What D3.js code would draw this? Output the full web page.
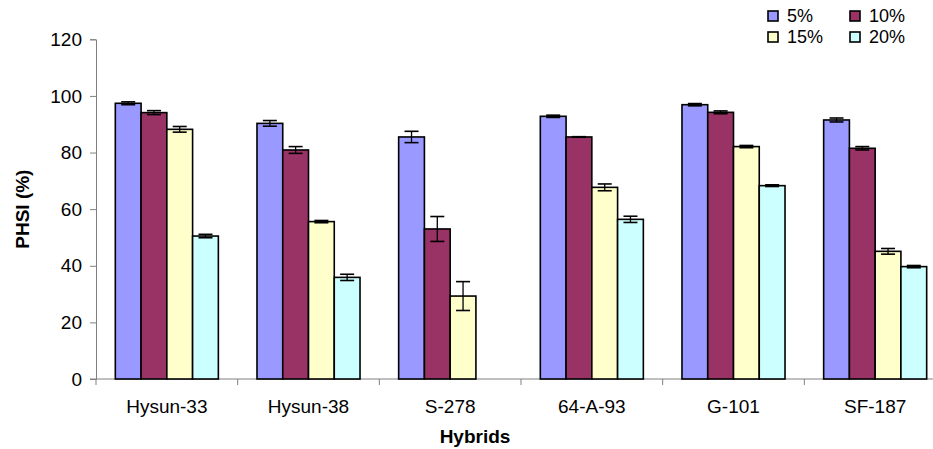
<!DOCTYPE html>
<html><head><meta charset="utf-8">
<script src="https://cdn.jsdelivr.net/npm/d3@7"></script>
<style>body{margin:0;background:#fff}svg{display:block}text{font-family:"Liberation Sans",Arial,sans-serif}</style>
</head><body><svg id="c" width="933" height="449"></svg>
<script>
const categories = ["Hysun-33","Hysun-38","S-278","64-A-93","G-101","SF-187"];
const seriesNames = ["5%","10%","15%","20%"];
const colors = ["#9999FF","#993366","#FFFFCC","#CCFFFF"];
const v5  = [97.4, 90.3, 85.5, 92.8, 96.9, 91.5];
const v10 = [94.1, 80.9, 53.0, 85.5, 94.2, 81.5];
const v15 = [88.2, 55.6, 29.3, 67.7, 82.1, 45.1];
const v20 = [50.5, 35.9, null, 56.4, 68.3, 39.7];
const e5  = [0.5, 1.0, 2.0, 0.4, 0.4, 0.7];
const e10 = [0.7, 1.2, 4.4, 0.1, 0.5, 0.6];
const e15 = [1.0, 0.4, 5.1, 1.2, 0.4, 1.0];
const e20 = [0.6, 1.1, null, 1.1, 0.3, 0.4];
const yTicks = [0,20,40,60,80,100,120];

const values = [v5,v10,v15,v20], errs = [e5,e10,e15,e20];
const svg = d3.select("#c");
const pL = 96, pR = 946, pT = 39.3, pB = 379;
const x = d3.scaleBand().domain(categories).range([pL,pR]).paddingInner(0.2727).paddingOuter(0.1364);
const xStep = d3.scaleBand().domain(categories).range([pL,pR]);
const y = d3.scaleLinear().domain([0,120]).range([pB,pT]);
const xs = d3.scaleBand().domain(seriesNames).range([0,x.bandwidth()]);

// axes
const yAxis = d3.axisLeft(y).tickValues(yTicks).tickSize(6).tickPadding(8);
const gy = svg.append("g").attr("transform",`translate(${pL},0)`).call(yAxis);
gy.select(".domain").attr("stroke","#808080");
gy.selectAll(".tick line").attr("stroke","#808080");
gy.selectAll("text").attr("font-size",19).attr("fill","#000").attr("font-family","Liberation Sans, Arial, sans-serif");

// x axis line and ticks between categories
svg.append("line").attr("x1",pL-6).attr("x2",pR).attr("y1",pB).attr("y2",pB).attr("stroke","#808080");
const bounds = categories.map(c=>xStep(c)).concat([pR]);
svg.selectAll(null).data(bounds).enter().append("line")
  .attr("x1",d=>d).attr("x2",d=>d).attr("y1",pB).attr("y2",pB+6).attr("stroke","#808080");
svg.selectAll(null).data(categories).enter().append("text")
  .attr("x",d=>xStep(d)+xStep.bandwidth()/2).attr("y",413).attr("text-anchor","middle")
  .attr("font-size",19).text(d=>d);

// bars
seriesNames.forEach((s,i)=>{
  const g = svg.append("g");
  const data = categories.map((c,j)=>({c, v:values[i][j], e:errs[i][j]})).filter(d=>d.v!=null);
  g.selectAll(null).data(data).enter().append("rect")
    .attr("x",d=>x(d.c)+xs(s)).attr("width",xs.bandwidth())
    .attr("y",d=>y(d.v)).attr("height",d=>y(0)-y(d.v))
    .attr("fill",colors[i]).attr("stroke","#000").attr("stroke-width",1.6);
  const cx = d=>x(d.c)+xs(s)+xs.bandwidth()/2;
  g.selectAll(null).data(data).enter().append("line")
    .attr("x1",cx).attr("x2",cx).attr("y1",d=>y(d.v+d.e)).attr("y2",d=>y(d.v-d.e)).attr("stroke","#000").attr("stroke-width",1.3);
  [1,-1].forEach(sg=>{
    g.selectAll(null).data(data).enter().append("line")
      .attr("x1",d=>cx(d)-7).attr("x2",d=>cx(d)+7)
      .attr("y1",d=>y(d.v+sg*d.e)).attr("y2",d=>y(d.v+sg*d.e))
      .attr("stroke","#000").attr("stroke-width",1.6);
  });
});

// axis titles
svg.append("text").attr("x",475).attr("y",443).attr("text-anchor","middle")
  .attr("font-size",19).attr("font-weight","bold").text("Hybrids");
svg.append("text").attr("transform",`translate(29,${(pT+pB)/2}) rotate(-90)`).attr("text-anchor","middle")
  .attr("font-size",19).attr("font-weight","bold").text("PHSI (%)");

// legend
const lg = svg.append("g");
const lpos = [[768,11],[850,11],[768,32],[850,32]];
seriesNames.forEach((s,i)=>{
  lg.append("rect").attr("x",lpos[i][0]).attr("y",lpos[i][1]).attr("width",10).attr("height",10)
    .attr("fill",colors[i]).attr("stroke","#000").attr("stroke-width",1.6);
  lg.append("text").attr("x",lpos[i][0]+19).attr("y",lpos[i][1]+10.5).attr("font-size",18).text(s);
});
</script></body></html>
